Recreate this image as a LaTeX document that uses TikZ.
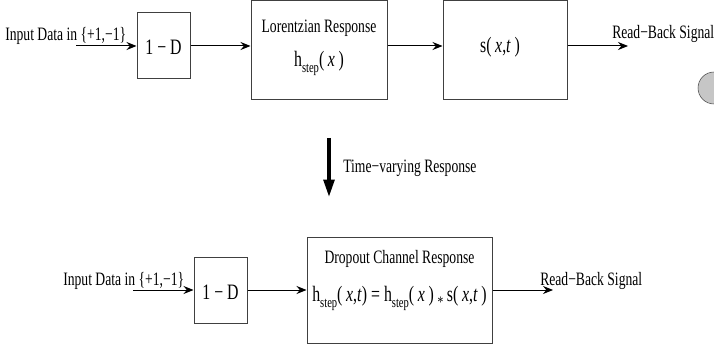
\documentclass[tikz,border=0pt]{standalone}
\usepackage{fontspec}
\setmainfont[FakeStretch=0.72]{Liberation Serif}
\usetikzlibrary{arrows.meta}
\newcommand{\mth}{\fontsize{16.5}{19}\selectfont}
\newcommand{\hstep}{h\raisebox{-0.6ex}{\fontsize{11}{11}\selectfont step}}
\begin{document}
\begin{tikzpicture}[x=0.75pt, y=-0.75pt,
    every node/.style={font=\fontsize{14.2}{17}\selectfont, inner sep=0pt},
    block/.style={draw=black!75, line width=0.75pt},
    conn/.style={-{Stealth[length=7.5pt,width=6pt,inset=2.5pt]}, line width=0.75pt},
    bigconn/.style={-{Triangle[length=13pt,width=8pt]}, line width=2.6pt}]
    \useasboundingbox (0,0) rectangle (714,349);
    % Canal con respuesta fija
    \coordinate (in1) at (76,46);
    \coordinate (out1) at (628,46);
    \node[anchor=base west] (txtin1) at (5,41) {Input Data in \{+1,−1\}};
    \node[block, minimum width=39.75pt, minimum height=49.5pt] (d1) at (163.5,46) {};
    \node[anchor=base, font=\mth] (d1txt) at (d1.center |- 0,55) {1 − D};
    \node[block, minimum width=102pt, minimum height=73.9pt] (lor) at (319,49.75) {};
    \node[anchor=base] (lortitle) at (319,33) {Lorentzian Response};
    \node[anchor=base, font=\mth] (lorfun) at (319,66.5) {\hstep(\,\textit{x}\,)};
    \node[block, minimum width=93pt, minimum height=73.9pt] (sx) at (505,49.75) {};
    \node[anchor=base, font=\mth] (sxfun) at (500,53) {s(\,\textit{x},\textit{t}\,)};
    \node[anchor=base west] (txtout1) at (612,39) {Read−Back Signal};
    \draw[conn] (in1) -- (d1.west);
    \draw[conn] (d1.east) -- (d1.east -| lor.west);
    \draw[conn] (lor.east |- d1.east) -- (d1.east -| sx.west);
    \draw[conn] (sx.east |- d1.east) -- (out1);
    \draw[draw=black!70, fill=gray!45] (714,88) circle (12pt);
    % Paso a respuesta variable
    \coordinate (tv1) at (329,138);
    \coordinate (tv2) at (329,197);
    \draw[bigconn] (tv1) -- (tv2);
    \node[anchor=base west] (txttv) at (343,173) {Time−varying Response};
    % Canal con dropout
    \coordinate (in2) at (133,290);
    \coordinate (out2) at (553,290);
    \node[anchor=base west] (txtin2) at (63,285) {Input Data in \{+1,−1\}};
    \node[block, minimum width=39.75pt, minimum height=49.5pt] (d2) at (220.5,290) {};
    \node[anchor=base, font=\mth] (d2txt) at (d2.center |- 0,299) {1 − D};
    \node[block, minimum width=138.75pt, minimum height=79.5pt] (drop) at (399.5,290) {};
    \node[anchor=base] (droptitle) at (399.5,263) {Dropout Channel Response};
    \node[anchor=base, font=\mth] (dropfun) at (399.5,301.5)
        {\hstep(\,\textit{x},\textit{t}) = \hstep(\,\textit{x}\,)\,\raisebox{-0.55ex}{\fontsize{12}{12}\selectfont *}\,s(\,\textit{x},\textit{t}\,)};
    \node[anchor=base west] (txtout2) at (540,285) {Read−Back Signal};
    \draw[conn] (in2) -- (d2.west);
    \draw[conn] (d2.east) -- (drop.west);
    \draw[conn] (drop.east) -- (out2);
\end{tikzpicture}
\end{document}
